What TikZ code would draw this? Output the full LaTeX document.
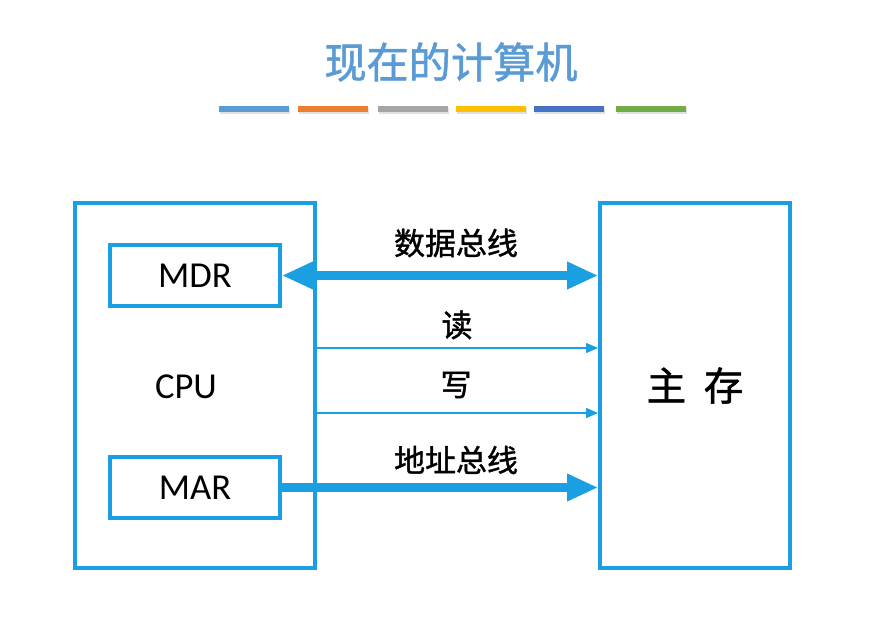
\documentclass[tikz,border=0pt]{standalone}
\usepackage{fontspec}
\setmainfont{Carlito}
\newfontfamily\cjk{Noto Sans CJK SC}
\newfontfamily\cjkb[FakeBold=1.3]{Noto Sans CJK SC}
\usetikzlibrary{arrows.meta}
\definecolor{busblue}{RGB}{26,160,226}
\definecolor{titleblue}{HTML}{5B9BD5}
\definecolor{barA}{HTML}{5B9BD5}
\definecolor{barB}{HTML}{ED7D31}
\definecolor{barC}{HTML}{A5A5A5}
\definecolor{barD}{HTML}{FFC000}
\definecolor{barE}{HTML}{4472C4}
\definecolor{barF}{HTML}{70AD47}

\begin{document}
\begin{tikzpicture}[x=0.025cm,y=-0.025cm,
  box/.style={draw=busblue,line width=2.5pt,inner sep=0pt},
  reg/.style={box,minimum width=4.25cm,minimum height=1.525cm,font=\fontsize{26}{28}\selectfont},
  bus/.style={draw=busblue,line width=6.6pt,-{Triangle[length=0.78cm,width=0.64cm]}},
  ctl/.style={draw=busblue,line width=1.5pt,-{Triangle[length=0.3cm,width=0.24cm]}},
  lbl/.style={font=\cjkb\fontsize{22}{24}\selectfont}]
  \useasboundingbox (0,0) rectangle (895,637);
  % title and colour bars
  \node[font=\cjkb\fontsize{30}{32}\selectfont,text=titleblue] (title) at (451,62) {现在的计算机};
  \foreach \xa/\col in {219/barA,298/barB,378/barC,456/barD,534/barE,616/barF}{
    \fill[black!12] (\xa+1,108) rectangle (\xa+71,114);
    \fill[\col] (\xa,106) rectangle (\xa+70,112);
  }
  % boxes
  \node[box,minimum width=6cm,minimum height=9.125cm] (cpu) at (195,385.5) {};
  \node[box,minimum width=4.75cm,minimum height=9.125cm,font=\cjkb\fontsize{28}{30}\selectfont] (mem) at (695,385.5) {主\hspace{0.45em}存};
  \node[reg] (mdr) at (195,275.5) {MDR};
  \node[reg] (mar) at (195,487.5) {MAR};
  \node[font=\fontsize{26}{28}\selectfont] (cputxt) at (186,387) {CPU};
  % rows of the buses
  \coordinate (rd) at (0,348);
  \coordinate (wr) at (0,413);
  % connectors
  \draw[bus,{Triangle[length=0.78cm,width=0.64cm]}-{Triangle[length=0.78cm,width=0.64cm]}] (mdr.east) -- (mem.west |- mdr.east);
  \draw[ctl] (cpu.east |- rd) -- (mem.west |- rd);
  \draw[ctl] (cpu.east |- wr) -- (mem.west |- wr);
  \draw[bus] (mar.east) -- (mem.west |- mar.east);
  % labels
  \node[lbl] (dbus) at (456,243) {数据总线};
  \node[lbl] (rdl) at (457,325) {读};
  \node[lbl] (wrl) at (456,385) {写};
  \node[lbl] (abus) at (456,460) {地址总线};
\end{tikzpicture}
\end{document}
